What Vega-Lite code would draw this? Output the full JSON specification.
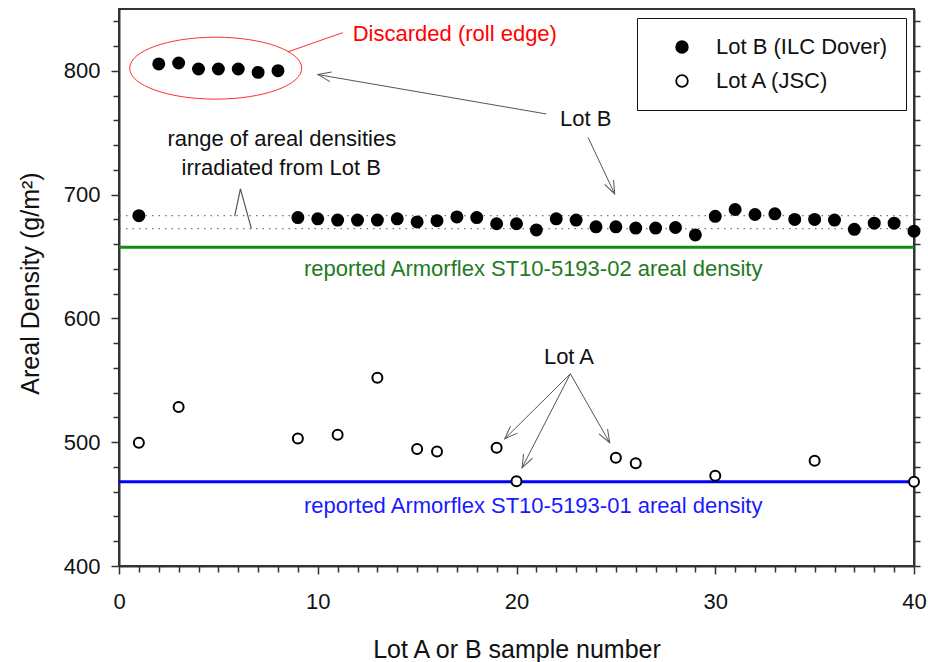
{
  "$schema": "https://vega.github.io/schema/vega-lite/v6.json",
  "width": 795,
  "height": 557,
  "autosize": {"type": "none"},
  "padding": {"left": 119, "top": 9, "right": 14, "bottom": 96},
  "background": "white",
  "config": {
    "font": "Liberation Sans",
    "view": {"stroke": "#333", "strokeWidth": 2},
    "axis": {
      "grid": false,
      "domainColor": "#333",
      "domainWidth": 2,
      "tickColor": "#333",
      "tickWidth": 1.5,
      "tickSize": 7,
      "labelFont": "Liberation Sans",
      "labelFontSize": 22,
      "labelColor": "#111",
      "titleFont": "Liberation Sans",
      "titleFontSize": 25,
      "titleFontWeight": "normal",
      "titleColor": "#111",
      "labelOverlap": false,
      "labelFlush": false
    }
  },
  "datasets": {
    "lotB": [
      {"sample": 1, "density": 683}, {"sample": 2, "density": 805.6}, {"sample": 3, "density": 806.4},
      {"sample": 4, "density": 801.5}, {"sample": 5, "density": 801.5}, {"sample": 6, "density": 801.5},
      {"sample": 7, "density": 798.8}, {"sample": 8, "density": 800.2}, {"sample": 9, "density": 681.5},
      {"sample": 10, "density": 680.5}, {"sample": 11, "density": 679.5}, {"sample": 12, "density": 679.5},
      {"sample": 13, "density": 679.5}, {"sample": 14, "density": 680.5}, {"sample": 15, "density": 678},
      {"sample": 16, "density": 679}, {"sample": 17, "density": 682}, {"sample": 18, "density": 681.5},
      {"sample": 19, "density": 676.5}, {"sample": 20, "density": 676.5}, {"sample": 21, "density": 671.5},
      {"sample": 22, "density": 680.5}, {"sample": 23, "density": 679.5}, {"sample": 24, "density": 674},
      {"sample": 25, "density": 674}, {"sample": 26, "density": 673}, {"sample": 27, "density": 673},
      {"sample": 28, "density": 673.5}, {"sample": 29, "density": 667.5}, {"sample": 30, "density": 682.5},
      {"sample": 31, "density": 688}, {"sample": 32, "density": 684}, {"sample": 33, "density": 684.5},
      {"sample": 34, "density": 680}, {"sample": 35, "density": 680}, {"sample": 36, "density": 679.5},
      {"sample": 37, "density": 672}, {"sample": 38, "density": 677}, {"sample": 39, "density": 677},
      {"sample": 40, "density": 670.5}
    ],
    "lotA": [
      {"sample": 1, "density": 499.5}, {"sample": 3, "density": 528.5}, {"sample": 9, "density": 503},
      {"sample": 11, "density": 506}, {"sample": 13, "density": 552}, {"sample": 15, "density": 494.5},
      {"sample": 16, "density": 492.5}, {"sample": 19, "density": 495.5}, {"sample": 20, "density": 468.5},
      {"sample": 25, "density": 487.5}, {"sample": 26, "density": 483}, {"sample": 30, "density": 473},
      {"sample": 35, "density": 485}, {"sample": 40, "density": 468}
    ],
    "arrows": [
      {"x": 21.50, "y": 765.2, "x2": 10.01, "y2": 797.0, "angle": -170.2},
      {"x": 23.60, "y": 746.3, "x2": 24.94, "y2": 700.6, "angle": 64.7},
      {"x": 22.71, "y": 555.3, "x2": 19.41, "y2": 502.8, "angle": 135.3},
      {"x": 22.71, "y": 555.3, "x2": 20.28, "y2": 479.4, "angle": 117.2},
      {"x": 22.71, "y": 555.3, "x2": 24.69, "y2": 499.6, "angle": 60.3}
    ]
  },
  "layer": [
    {
      "layer": [
        {
          "data": {"values": [{"y": 657.6}]},
          "mark": {"type": "rule", "color": "#138a13", "strokeWidth": 3},
          "encoding": {
            "y": {"field": "y", "type": "quantitative", "scale": {"domain": [400, 850], "nice": false, "zero": false}}
          }
        },
        {
          "data": {"values": [{"y": 468}]},
          "mark": {"type": "rule", "color": "#0000ff", "strokeWidth": 3},
          "encoding": {
            "y": {"field": "y", "type": "quantitative", "scale": {"domain": [400, 850], "nice": false, "zero": false}}
          }
        },
        {
          "data": {"values": [{"y": 683}, {"y": 672.5}]},
          "mark": {"type": "rule", "color": "#777", "strokeWidth": 1.3, "strokeDash": [1.5, 5]},
          "encoding": {
            "y": {"field": "y", "type": "quantitative", "scale": {"domain": [400, 850], "nice": false, "zero": false}}
          }
        },
        {
          "data": {"values": [{"o": 1, "x": 5.82, "y": 682.6}, {"o": 2, "x": 6.11, "y": 704.7}, {"o": 3, "x": 6.66, "y": 672.6}]},
          "mark": {"type": "line", "color": "#555", "strokeWidth": 1.2},
          "encoding": {
            "x": {"field": "x", "type": "quantitative", "scale": {"domain": [0, 40], "nice": false, "zero": false}},
            "y": {"field": "y", "type": "quantitative", "scale": {"domain": [400, 850], "nice": false, "zero": false}},
            "order": {"field": "o", "type": "quantitative"}
          }
        },
        {
          "data": {"values": [{"x": 4.865, "y": 802.2}]},
          "mark": {"type": "point", "shape": "M -1 0 A 1 0.36 0 1 1 1 0 A 1 0.36 0 1 1 -1 0 Z", "filled": false, "color": "#ff3030", "strokeWidth": 1, "size": 29584, "opacity": 1},
          "encoding": {
            "x": {"field": "x", "type": "quantitative", "scale": {"domain": [0, 40], "nice": false, "zero": false}},
            "y": {"field": "y", "type": "quantitative", "scale": {"domain": [400, 850], "nice": false, "zero": false}}
          }
        },
        {
          "data": {"values": [{"x": 8.49, "y": 815.3, "x2": 11.26, "y2": 830.9}]},
          "mark": {"type": "rule", "color": "#ff3030", "strokeWidth": 1},
          "encoding": {
            "x": {"field": "x", "type": "quantitative", "scale": {"domain": [0, 40], "nice": false, "zero": false}},
            "y": {"field": "y", "type": "quantitative", "scale": {"domain": [400, 850], "nice": false, "zero": false}},
            "x2": {"field": "x2"},
            "y2": {"field": "y2"}
          }
        },
        {
          "data": {"name": "arrows"},
          "mark": {"type": "rule", "color": "#555", "strokeWidth": 1},
          "encoding": {
            "x": {"field": "x", "type": "quantitative", "scale": {"domain": [0, 40], "nice": false, "zero": false}},
            "y": {"field": "y", "type": "quantitative", "scale": {"domain": [400, 850], "nice": false, "zero": false}},
            "x2": {"field": "x2"},
            "y2": {"field": "y2"}
          }
        },
        {
          "data": {"name": "arrows"},
          "mark": {"type": "point", "shape": "M -1 -0.38 L 0 0 L -1 0.38", "filled": false, "color": "#555", "strokeWidth": 1, "size": 676, "opacity": 1},
          "encoding": {
            "x": {"field": "x2", "type": "quantitative", "scale": {"domain": [0, 40], "nice": false, "zero": false}},
            "y": {"field": "y2", "type": "quantitative", "scale": {"domain": [400, 850], "nice": false, "zero": false}},
            "angle": {"field": "angle", "type": "quantitative", "scale": null}
          }
        },
        {
          "data": {"values": [
            {"x": 23.48, "y": 755.2, "t": "Lot B"},
            {"x": 22.64, "y": 562.8, "t": "Lot A"},
            {"x": 8.19, "y": 739.1, "t": "range of areal densities"},
            {"x": 8.16, "y": 716.2, "t": "irradiated from Lot B"}
          ]},
          "mark": {"type": "text", "font": "Liberation Sans", "fontSize": 22, "color": "#111", "align": "center", "baseline": "alphabetic"},
          "encoding": {
            "x": {"field": "x", "type": "quantitative", "scale": {"domain": [0, 40], "nice": false, "zero": false}},
            "y": {"field": "y", "type": "quantitative", "scale": {"domain": [400, 850], "nice": false, "zero": false}},
            "text": {"field": "t"}
          }
        },
        {
          "data": {"values": [{"x": 11.76, "y": 823.8, "t": "Discarded (roll edge)"}]},
          "mark": {"type": "text", "font": "Liberation Sans", "fontSize": 22, "color": "#ff0000", "align": "left", "baseline": "alphabetic"},
          "encoding": {
            "x": {"field": "x", "type": "quantitative", "scale": {"domain": [0, 40], "nice": false, "zero": false}},
            "y": {"field": "y", "type": "quantitative", "scale": {"domain": [400, 850], "nice": false, "zero": false}},
            "text": {"field": "t"}
          }
        },
        {
          "data": {"values": [{"x": 20.84, "y": 634.1, "t": "reported Armorflex ST10-5193-02 areal density"}]},
          "mark": {"type": "text", "font": "Liberation Sans", "fontSize": 22, "color": "#1f7a1f", "align": "center", "baseline": "alphabetic"},
          "encoding": {
            "x": {"field": "x", "type": "quantitative", "scale": {"domain": [0, 40], "nice": false, "zero": false}},
            "y": {"field": "y", "type": "quantitative", "scale": {"domain": [400, 850], "nice": false, "zero": false}},
            "text": {"field": "t"}
          }
        },
        {
          "data": {"values": [{"x": 20.84, "y": 443.1, "t": "reported Armorflex ST10-5193-01 areal density"}]},
          "mark": {"type": "text", "font": "Liberation Sans", "fontSize": 22, "color": "#1a1aff", "align": "center", "baseline": "alphabetic"},
          "encoding": {
            "x": {"field": "x", "type": "quantitative", "scale": {"domain": [0, 40], "nice": false, "zero": false}},
            "y": {"field": "y", "type": "quantitative", "scale": {"domain": [400, 850], "nice": false, "zero": false}},
            "text": {"field": "t"}
          }
        },
        {
          "data": {"name": "lotB"},
          "transform": [{"calculate": "'Lot B (ILC Dover)'", "as": "lot"}],
          "mark": {"type": "point", "shape": "circle", "filled": true, "stroke": "#000", "strokeWidth": 1.8, "opacity": 1, "size": 125},
          "encoding": {
            "x": {
              "field": "sample", "type": "quantitative",
              "scale": {"domain": [0, 40], "nice": false, "zero": false},
              "axis": {
                "orient": "bottom",
                "title": "Lot A or B sample number",
                "values": [0, 10, 20, 30, 40],
                "tickSize": 8,
                "labelOverlap": false,
                "labelPadding": 17,
                "titleY": 91,
                "titleBaseline": "alphabetic"
              }
            },
            "y": {
              "field": "density", "type": "quantitative",
              "scale": {"domain": [400, 850], "nice": false, "zero": false},
              "axis": {
                "orient": "left",
                "title": "Areal Density (g/m²)",
                "values": [400, 500, 600, 700, 800],
                "tickSize": 8,
                "labelOverlap": false,
                "labelPadding": 11,
                "titleX": -81,
                "titleY": 274,
                "titleAngle": -90,
                "titleBaseline": "alphabetic",
                "titleAlign": "center"
              }
            },
            "fill": {
              "field": "lot", "type": "nominal",
              "scale": {"domain": ["Lot B (ILC Dover)", "Lot A (JSC)"], "range": ["#000000", "#ffffff"]},
              "legend": {
                "title": null,
                "orient": "none",
                "legendX": 518,
                "legendY": 9,
                "strokeColor": "#111",
                "padding": 18,
                "labelFont": "Liberation Sans",
                "labelFontSize": 22,
                "labelColor": "#111",
                "labelLimit": 400,
                "symbolStrokeColor": "#000",
                "symbolStrokeWidth": 1.8,
                "symbolType": "circle",
                "symbolSize": 135,
                "symbolOffset": 16,
                "labelOffset": 23,
                "rowPadding": 12
              }
            }
          }
        },
        {
          "data": {"name": "lotA"},
          "transform": [{"calculate": "'Lot A (JSC)'", "as": "lot"}],
          "mark": {"type": "point", "shape": "circle", "filled": true, "stroke": "#000", "strokeWidth": 2, "opacity": 1, "size": 100},
          "encoding": {
            "x": {"field": "sample", "type": "quantitative", "scale": {"domain": [0, 40], "nice": false, "zero": false}},
            "y": {"field": "density", "type": "quantitative", "scale": {"domain": [400, 850], "nice": false, "zero": false}},
            "fill": {"field": "lot", "type": "nominal", "scale": {"domain": ["Lot B (ILC Dover)", "Lot A (JSC)"], "range": ["#000000", "#ffffff"]}}
          }
        }
      ]
    },
    {
      "data": {"values": [{"sample": 0}]},
      "mark": {"type": "point", "opacity": 0},
      "encoding": {
        "x": {
          "field": "sample", "type": "quantitative",
          "scale": {"domain": [0, 40], "nice": false, "zero": false},
          "axis": {
            "orient": "bottom",
            "labels": false,
            "domain": false,
            "title": null,
            "tickSize": 6,
            "values": [1,2,3,4,5,6,7,8,9,11,12,13,14,15,16,17,18,19,21,22,23,24,25,26,27,28,29,31,32,33,34,35,36,37,38,39]
          }
        }
      }
    },
    {
      "data": {"values": [{"density": 400}]},
      "mark": {"type": "point", "opacity": 0},
      "encoding": {
        "y": {
          "field": "density", "type": "quantitative",
          "scale": {"domain": [400, 850], "nice": false, "zero": false},
          "axis": {
            "orient": "left",
            "labels": false,
            "domain": false,
            "title": null,
            "tickSize": 6,
            "values": [420,440,460,480,520,540,560,580,620,640,660,680,720,740,760,780,820,840]
          }
        }
      }
    },
    {
      "data": {"values": [{"density": 400}]},
      "mark": {"type": "point", "opacity": 0},
      "encoding": {
        "y": {
          "field": "density", "type": "quantitative",
          "scale": {"domain": [400, 850], "nice": false, "zero": false},
          "axis": {
            "orient": "right",
            "labels": false,
            "title": null,
            "tickSize": 6,
            "values": [400,420,440,460,480,500,520,540,560,580,600,620,640,660,680,700,720,740,760,780,800,820,840]
          }
        }
      }
    }
  ],
  "resolve": {"axis": {"x": "independent", "y": "independent"}}
}
